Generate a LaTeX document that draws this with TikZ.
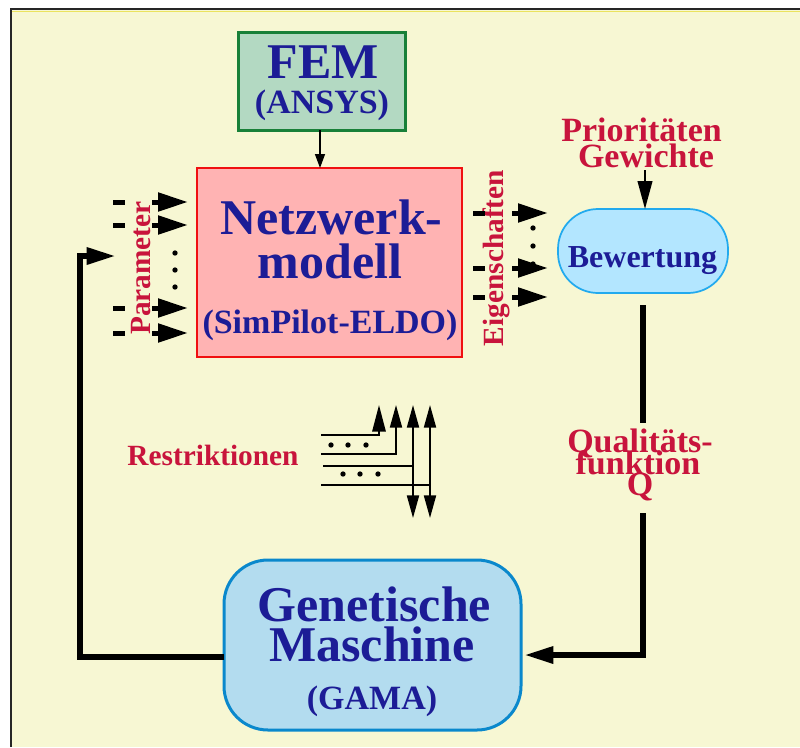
\documentclass[tikz,border=0pt]{standalone}
\usepackage{fontspec}
\setmainfont{Liberation Serif}
\usetikzlibrary{arrows.meta,calc}
\definecolor{bg}{HTML}{F7F7D3}
\definecolor{navy}{HTML}{1C1C96}
\definecolor{crim}{HTML}{C8143C}
\definecolor{femfill}{HTML}{B3D9C2}
\definecolor{femline}{HTML}{188038}
\definecolor{netfill}{HTML}{FFB3B3}
\definecolor{netline}{HTML}{F01010}
\definecolor{bewfill}{HTML}{B3E6FF}
\definecolor{bewline}{HTML}{22AAEE}
\definecolor{genfill}{HTML}{B3DCEF}
\definecolor{genline}{HTML}{0A88CC}
\tikzset{
  box/.style={inner sep=0pt, outer sep=0pt},
  txt/.style={inner sep=0pt, anchor=base, font=\bfseries},
  big/.style={txt, text=navy, font=\fontsize{37.5}{37.5}\selectfont\bfseries},
  mid/.style={txt, text=navy, font=\fontsize{25.5}{25.5}\selectfont\bfseries},
  redmid/.style={txt, text=crim, font=\fontsize{25.5}{25.5}\selectfont\bfseries},
  redsmall/.style={txt, text=crim, font=\fontsize{22}{22}\selectfont\bfseries},
  fatarrow/.style={line width=3.75pt, -{Triangle[length=22.5pt,width=13.5pt]}},
  fatdash/.style={line width=3.75pt},
  feedline/.style={line width=4.5pt},
  feedarrow/.style={line width=4.5pt, -{Triangle[length=22pt,width=12pt]}},
  restr/.style={line width=1.5pt},
  dotmark/.style={fill=black, radius=2pt},
}
\begin{document}
\begin{tikzpicture}[x=0.75pt,y=-0.75pt]
\useasboundingbox (0,0) rectangle (800,747);
\fill[white] (0,0) rectangle (800,747);
\fill[bg] (11,9) rectangle (800,747);
\draw[line width=1.5pt, black!85] (11,747) -- (11,9) -- (800,9);
\draw[line width=1.1pt, yellow!70!olive!60] (12,11.5) -- (800,11.5);

% boxes
\node[box, draw=femline, line width=2.25pt, fill=femfill, minimum width=125.25pt, minimum height=73.5pt] (fem) at (321.5,81) {};
\node[box, draw=netline, line width=1.1pt, fill=netfill, minimum width=198.75pt, minimum height=141.75pt] (netz) at (329.5,262.5) {};
\node[box, draw=bewline, line width=1.3pt, fill=bewfill, minimum width=127.5pt, minimum height=63pt, rounded corners=30pt] (bew) at (643,251) {};
\node[box, draw=genline, line width=2.25pt, fill=genfill, minimum width=222.75pt, minimum height=127.5pt, rounded corners=33pt] (gen) at (372.5,645) {};

% texts
\node[big] (femA) at (323,78) {FEM};
\node[mid] (femB) at (322,113) {(ANSYS)};
\node[big] (netA) at (331.5,234) {Netzwerk-};
\node[big] (netB) at (330,278) {modell};
\node[mid] (netC) at (330,333) {(SimPilot-ELDO)};
\node[txt, text=navy, font=\fontsize{24}{24}\selectfont\bfseries] (bewT) at (642.5,267) {Bewertung};
\node[big] (genA) at (374.5,621) {Genetische};
\node[big] (genB) at (372,661) {Maschine};
\node[mid] (genC) at (372,709) {(GAMA)};
\node[redmid] (prioA) at (641.5,141) {Prioritäten};
\node[redmid] (prioB) at (646,167) {Gewichte};
\node[redmid] (qualA) at (640,452) {Qualitäts-};
\node[redmid] (qualB) at (638,474) {funktion};
\node[redmid] (qualC) at (640,495) {Q};
\node[redsmall] (restr) at (213,465) {Restriktionen};
\node[redsmall, rotate=90] (param) at (150,268) {Parameter};
\node[redsmall, rotate=90] (eigen) at (503,258) {Eigenschaften};

% FEM -> Netzwerk
\draw[line width=1.1pt, -{Triangle[length=10.5pt,width=7.5pt]}] (fem.south -| 320,0) -- (netz.north -| 320,0);
% Prioritaeten -> Bewertung
\coordinate (prioEnd) at (645,170);
\draw[line width=1.5pt, -{Triangle[length=21pt,width=11pt]}] (prioEnd) -- (bew.north -| prioEnd);

% parameter arrows
\foreach \y in {202,225,308,333}{
  \draw[fatdash] (113,\y) -- (125,\y);
  \draw[fatarrow] (152,\y) -- (188,\y);
}
\foreach \y in {253,270,287}{ \fill[dotmark] (175,\y) circle; }

% eigenschaften arrows
\foreach \y in {213,268,297}{
  \draw[fatdash] (473,\y) -- (485,\y);
  \draw[fatarrow] (512,\y) -- (548,\y);
}
\foreach \y in {228,246,264}{ \fill[dotmark] (533,\y) circle; }

% right feedback: Bewertung -> Qualitaetsfunktion -> Genetische
\coordinate (qTop) at (643,423);
\coordinate (qBot) at (643,513);
\coordinate (gIn) at (524,655);
\draw[feedline] ($(bew.south)+(0,12)$) -- (qTop);
\draw[feedarrow] (qBot) |- (gIn);

% left feedback: Genetische -> Parameter
\coordinate (fbEnd) at (116,256);
\draw[feedarrow] ($(gen.west)+(0,12)$) -| (80,256) -- (fbEnd);

% Restriktionen symbol
\draw[restr, -{Triangle[length=20pt,width=10pt]}] (321,435) -| (379,405);
\draw[restr, -{Triangle[length=17pt,width=9pt]}] (321,454) -| (396,405);
\draw[restr] (323,466) -- (413,466);
\draw[restr] (321,485) -- (430,485);
\draw[restr, {Triangle[length=17pt,width=9pt]}-{Triangle[length=17pt,width=9pt]}] (413,405) -- (413,518);
\draw[restr, {Triangle[length=17pt,width=9pt]}-{Triangle[length=17pt,width=9pt]}] (430,405) -- (430,518);
\foreach \x in {331,348,366}{ \fill[dotmark] (\x,445) circle; }
\foreach \x in {343,360,378}{ \fill[dotmark] (\x,474) circle; }
\end{tikzpicture}
\end{document}
